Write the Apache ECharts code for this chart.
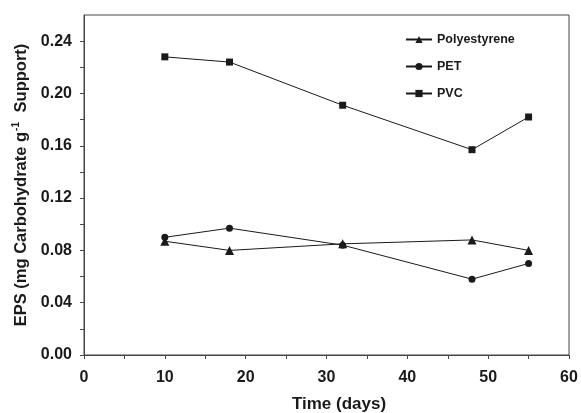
<!DOCTYPE html>
<html>
<head>
<meta charset="utf-8">
<script src="https://cdn.jsdelivr.net/npm/echarts@6/dist/echarts.min.js"></script>
<style>
  html, body { margin: 0; padding: 0; background: #fff; }
  #chart { width: 581px; height: 413px; }
</style>
</head>
<body>
<div id="chart"></div>
<script>
// days of sampling
const days = [10, 18, 32, 48, 55]
// EPS, mg carbohydrate per g support
const polystyrene = [0.087, 0.080, 0.085, 0.088, 0.080]
const pet = [0.090, 0.097, 0.084, 0.058, 0.070]
const pvc = [0.228, 0.224, 0.191, 0.157, 0.182]

const xTicks = [0, 5, 10, 15, 20, 25, 30, 35, 40, 45, 50, 55, 60]
const xLabels = [0, 10, 20, 30, 40, 50, 60]
const yTicks = [0, 0.02, 0.04, 0.06, 0.08, 0.10, 0.12, 0.14, 0.16, 0.18, 0.20, 0.22, 0.24]
const yLabels = [0, 0.04, 0.08, 0.12, 0.16, 0.20, 0.24]

const font = 'Liberation Sans, Arial, sans-serif'
const ink = '#1a1a1a'

const pairs = vals => days.map((d, i) => [d, vals[i]])

const lineSeries = (name, vals, symbol, size) => ({
  name,
  type: 'line',
  data: pairs(vals),
  symbol,
  symbolSize: size,
  lineStyle: { color: ink, width: 1 },
  itemStyle: { color: ink },
  emphasis: { disabled: true },
})

const chart = echarts.init(document.getElementById('chart'))
chart.setOption({
  animation: false,
  grid: {
    left: 84, right: 12, top: 15, bottom: 58,
    outerBoundsMode: 'none',
    containLabel: false,
    show: true, borderColor: '#444', borderWidth: 1,
  },
  legend: {
    orient: 'vertical',
    left: 405,
    top: 33,
    padding: 0,
    itemWidth: 26,
    itemHeight: 9,
    itemGap: 14,
    textStyle: { fontFamily: font, fontWeight: 'bold', fontSize: 12.5, color: ink },
    data: ['Polyestyrene', 'PET', 'PVC'],
  },
  xAxis: {
    type: 'value',
    min: 0, max: 60,
    name: 'Time (days)',
    nameLocation: 'middle',
    nameGap: 41,
    nameTextStyle: {
      fontFamily: font, fontWeight: 'bold', fontSize: 17, color: ink,
      padding: [0, 0, 0, 25],
    },
    axisLine: { lineStyle: { color: '#444', width: 1 } },
    axisTick: { inside: false, length: 4, customValues: xTicks, lineStyle: { color: '#444' } },
    axisLabel: {
      customValues: xLabels,
      margin: 15,
      fontFamily: font, fontWeight: 'bold', fontSize: 16, color: ink,
    },
    splitLine: { show: false },
  },
  yAxis: {
    type: 'value',
    min: 0, max: 0.26,
    name: 'EPS (mg Carbohydrate g{sup|-1} Support)',
    nameLocation: 'middle',
    nameGap: 51,
    nameTextStyle: {
      fontFamily: font, fontWeight: 'bold', fontSize: 16.5, color: ink,
      rich: {
        sup: { fontFamily: font, fontWeight: 'bold', fontSize: 10, color: ink, verticalAlign: 'top', padding: [0, 5, 10, 1] },
      },
    },
    axisLine: { show: true, lineStyle: { color: '#444', width: 1 } },
    axisTick: { show: true, inside: false, length: 4, customValues: yTicks, lineStyle: { color: '#444' } },
    axisLabel: {
      customValues: yLabels,
      margin: 12,
      formatter: v => v.toFixed(2),
      fontFamily: font, fontWeight: 'bold', fontSize: 16, color: ink,
    },
    splitLine: { show: false },
  },
  series: [
    lineSeries('Polyestyrene', polystyrene, 'triangle', 9),
    lineSeries('PET', pet, 'circle', 7),
    lineSeries('PVC', pvc, 'rect', 7),
  ],
})
</script>
</body>
</html>
